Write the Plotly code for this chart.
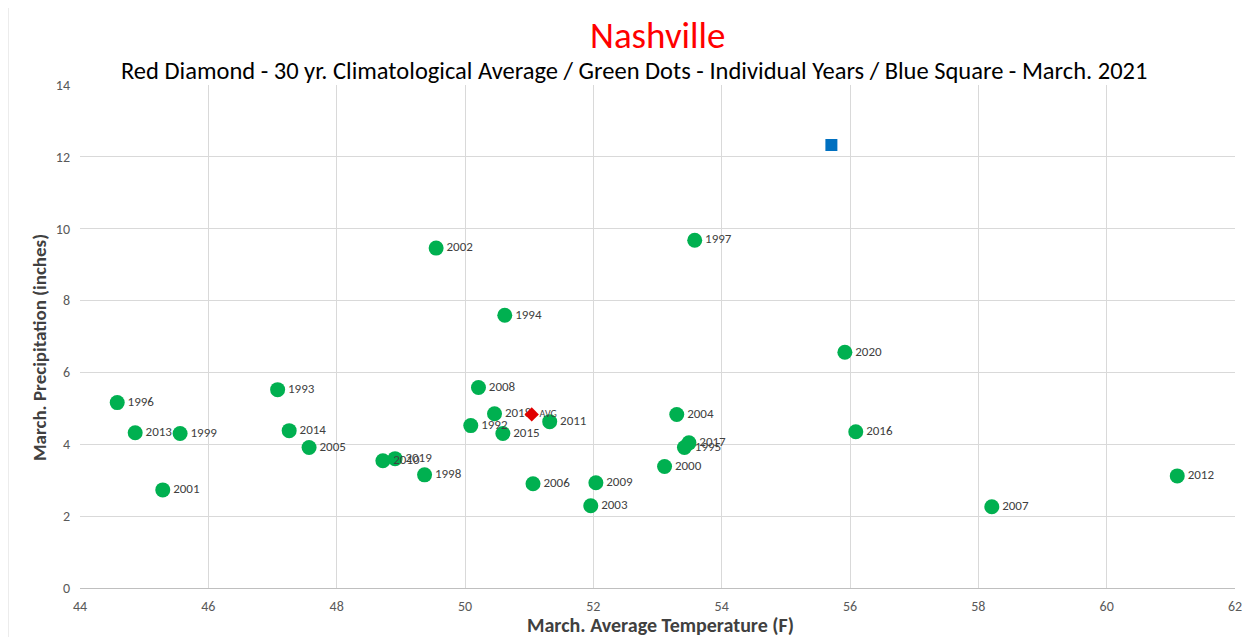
import plotly.graph_objects as go

years = ["1992","1993","1994","1995","1996","1997","1998","1999","2000","2001",
         "2002","2003","2004","2005","2006","2007","2008","2009","2010","2011",
         "2012","2013","2014","2015","2016","2017","2018","2019","2020"]
temps = [50.09,47.08,50.62,53.42,44.58,53.58,49.37,45.56,53.11,45.29,
         49.55,51.96,53.30,47.57,51.06,58.21,50.21,52.04,48.72,51.32,
         61.10,44.86,47.26,50.59,56.09,53.49,50.46,48.91,55.92]
precip = [4.52,5.52,7.59,3.91,5.16,9.68,3.15,4.30,3.38,2.73,
          9.46,2.29,4.83,3.91,2.90,2.26,5.58,2.93,3.54,4.63,
          3.12,4.32,4.38,4.30,4.35,4.04,4.85,3.60,6.56]
avg_temp = [51.04]
avg_precip = [4.83]
cur_temp = [55.71]
cur_precip = [12.33]

FONT = "Carlito, Calibri, 'Liberation Sans Narrow', 'Open Sans', sans-serif"

# page has an 8px body margin; compensate so the plot area lands at x 80..1235, y 85..588
W, H = 1246, 629
L, R, T, B = 72, 19, 77, 49
plot_w = W - L - R
plot_h = H - T - B

def px_x(ax):  # absolute page x -> paper x
    return (ax - 8 - L) / plot_w

def px_y(ay):  # absolute page y -> paper y
    return (H - B - (ay - 8)) / plot_h

fig = go.Figure()
fig.add_trace(go.Scatter(
    x=temps, y=precip, mode="markers+text", text=years,
    textposition="middle right", textfont=dict(size=13, color="#404040", family=FONT),
    marker=dict(color="#00B050", size=15), showlegend=False, cliponaxis=False))
fig.add_trace(go.Scatter(
    x=avg_temp, y=avg_precip, mode="markers+text", text=["AVG"],
    textposition="middle right", textfont=dict(size=10, color="#404040", family=FONT),
    marker=dict(color="#E00000", size=11, symbol="diamond"), showlegend=False))
fig.add_trace(go.Scatter(
    x=cur_temp, y=cur_precip, mode="markers",
    marker=dict(color="#0070C0", size=12, symbol="square"), showlegend=False))

fig.update_layout(
    width=W, height=H,
    paper_bgcolor="white", plot_bgcolor="white",
    margin=dict(l=L, r=R, t=T, b=B, autoexpand=False),
    font=dict(family=FONT, color="#595959"),
)
fig.add_annotation(text="Nashville", xref="paper", yref="paper", x=0.5, y=px_y(36),
                   yanchor="middle", showarrow=False, font=dict(size=37, color="#FF0000", family=FONT))
fig.add_annotation(text="Red Diamond - 30 yr. Climatological Average / Green Dots - Individual Years / Blue Square - March. 2021",
                   xref="paper", yref="paper", x=px_x(634), y=px_y(71), yanchor="middle", showarrow=False,
                   font=dict(size=24.5, color="#000000", family=FONT))
fig.add_annotation(text="<b>March. Average Temperature (F)</b>", xref="paper", yref="paper",
                   x=px_x(660), y=px_y(625), yanchor="middle", showarrow=False,
                   font=dict(size=20, color="#404040", family=FONT))
fig.add_annotation(text="<b>March. Precipitation (inches)</b>", xref="paper", yref="paper",
                   x=px_x(39), y=px_y(348), xanchor="center", yanchor="middle", textangle=-90,
                   showarrow=False, font=dict(size=19, color="#404040", family=FONT))

fig.update_xaxes(range=[44, 62], dtick=2, showgrid=True, gridcolor="#D9D9D9",
                 zeroline=False, showline=True, linecolor="#BFBFBF", ticks="",
                 ticklabelstandoff=5,
                 automargin=False, tickfont=dict(size=14, color="#595959"))
fig.update_yaxes(range=[0, 14], dtick=2, showgrid=True, gridcolor="#D9D9D9",
                 zeroline=False, showline=False, ticks="",
                 ticklabelstandoff=9,
                 automargin=False, tickfont=dict(size=14, color="#595959"))

fig.add_shape(type="rect", xref="paper", yref="paper",
              x0=px_x(8), x1=px_x(1250), y0=px_y(680), y1=px_y(2),
              line=dict(color="#D9D9D9", width=1), layer="below")

fig.write_html("out.html")
